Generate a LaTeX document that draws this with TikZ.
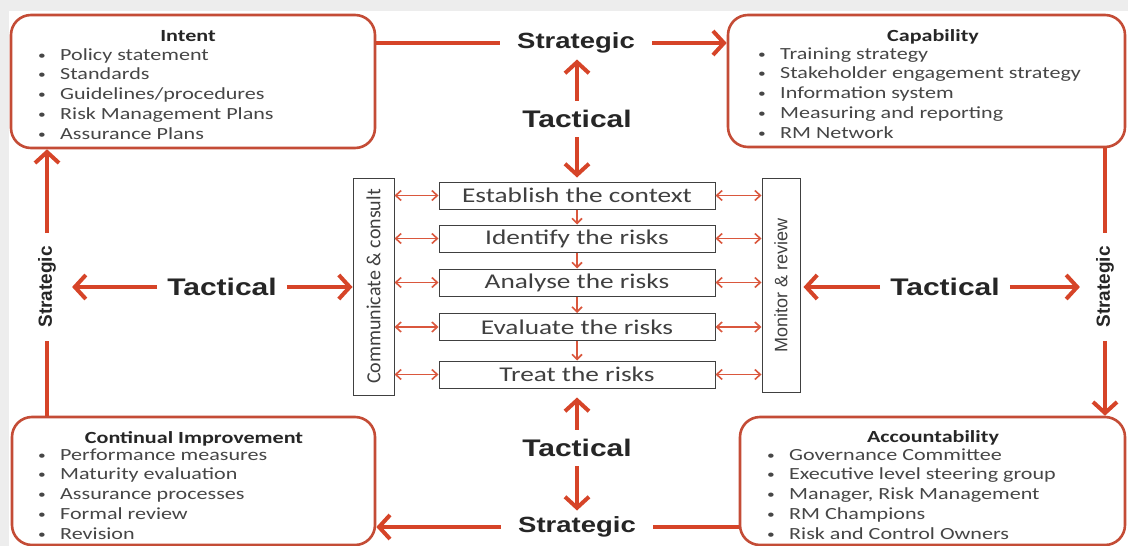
\documentclass[tikz,border=0pt]{standalone}
\usepackage{fontspec}
\usepackage{graphicx}
\usetikzlibrary{arrows.meta}
\newfontfamily\boxfont[FakeStretch=1.3]{Carlito}
\newfontfamily\sidefont{Carlito}
\newfontfamily\levelfont[FakeStretch=1.25]{Liberation Sans}
\newfontfamily\sidelevelfont{Liberation Sans}
\definecolor{cyclered}{RGB}{214,68,40}
\definecolor{boxred}{RGB}{196,76,54}
\definecolor{itemgrey}{RGB}{70,70,70}
\definecolor{stepgrey}{RGB}{64,64,64}
\newcommand{\bul}{\raisebox{1pt}{\scalebox{0.7}{\textbullet}}}
\newcommand{\arealist}[1]{\begin{tabular}[t]{@{}p{22pt}@{}l@{}}#1\end{tabular}}

\tikzset{
  area/.style={draw=boxred, line width=2.6pt, rounded corners=20pt, inner sep=0pt},
  areatitle/.style={anchor=base, inner sep=0pt, font=\boxfont\bfseries\fontsize{17}{19.75}\selectfont, text=black!85},
  arealines/.style={anchor=base west, inner sep=0pt, font=\boxfont\fontsize{17}{19.75}\selectfont, text=itemgrey},
  stepbox/.style={draw=stepgrey, line width=1pt, minimum width=276pt, minimum height=27pt, inner sep=0pt, font=\boxfont\fontsize{21}{24}\selectfont, text=stepgrey},
  sidebox/.style={draw=stepgrey, line width=1pt, rotate=90, inner sep=0pt, text=stepgrey},
  level/.style={font=\levelfont\bfseries\fontsize{24}{28}\selectfont, text=black!85, inner xsep=10pt, inner ysep=9pt},
  strat/.style={font=\levelfont\bfseries\fontsize{22}{26}\selectfont, text=black!85, inner xsep=17pt, inner ysep=6pt},
  sidestrat/.style={font=\sidelevelfont\bfseries\fontsize{19}{22}\selectfont, text=black!85, rotate=90, inner xsep=13pt, inner ysep=16pt},
  cycleline/.style={draw=cyclered, line width=4pt},
  cyclearrow/.style={cycleline, -{Straight Barb[length=11pt,width=24pt]}},
  linkarrow/.style={draw=cyclered!90, line width=1.6pt, {Straight Barb[length=5.5pt,width=10pt]}-{Straight Barb[length=5.5pt,width=10pt]}},
  stepflow/.style={draw=cyclered!90, line width=1.6pt, -{Straight Barb[length=5pt,width=10pt]}}
}

\begin{document}
\begin{tikzpicture}[x=1pt, y=-1pt]
  \useasboundingbox (0,0) rectangle (1128,546);
  \fill[black!7] (0,0) rectangle (1128,546);
  \fill[white] (9,11) rectangle (1128,546);

  % the four areas
  \node[area, minimum width=364pt, minimum height=133pt] (intent) at (193,81.5) {};
  \node[area, minimum width=397pt, minimum height=132pt] (capab) at (926.5,81) {};
  \node[area, minimum width=363pt, minimum height=128pt] (contin) at (193.5,481) {};
  \node[area, minimum width=385pt, minimum height=128pt] (account) at (932.5,481) {};

  \node[areatitle] (intenttitle) at (188,41) {Intent};
  \node[arealines] (intentlist) at (38,60) {\arealist{\bul & Policy statement\\ \bul & Standards\\ \bul & Guidelines/procedures\\ \bul & Risk Management Plans\\ \bul & Assurance Plans}};
  \node[areatitle] (capabtitle) at (933,41) {Capability};
  \node[arealines] (capablist) at (758,59) {\arealist{\bul & Training strategy\\ \bul & Stakeholder engagement strategy\\ \bul & Information system\\ \bul & Measuring and reporting\\ \bul & RM Network}};
  \node[areatitle] (contintitle) at (194,443) {Continual Improvement};
  \node[arealines] (continlist) at (38,460) {\arealist{\bul & Performance measures\\ \bul & Maturity evaluation\\ \bul & Assurance processes\\ \bul & Formal review\\ \bul & Revision}};
  \node[areatitle] (accounttitle) at (933,442) {Accountability};
  \node[arealines] (accountlist) at (767,460) {\arealist{\bul & Governance Committee\\ \bul & Executive level steering group\\ \bul & Manager, Risk Management\\ \bul & RM Champions\\ \bul & Risk and Control Owners}};

  % process steps
  \node[stepbox] (est) at (577,195.5) {Establish the context};
  \node[stepbox] (ident) at (577,238.5) {Identify the risks};
  \node[stepbox] (anal) at (577,282.5) {Analyse the risks};
  \node[stepbox] (evalu) at (577,327) {Evaluate the risks};
  \node[stepbox] (treat) at (577,374.5) {Treat the risks};
  \node[sidebox, minimum width=217pt, minimum height=41pt, font=\sidefont\fontsize{20}{24}\selectfont] (comm) at (373.5,286.5) {Communicate \& consult};
  \node[sidebox, minimum width=214pt, minimum height=38pt, font=\sidelevelfont\fontsize{18}{22}\selectfont] (mon) at (781,285) {Monitor \& review};

  % levels
  \node[strat] (stratT) at (576,43) {Strategic};
  \node[strat] (stratB) at (577,527) {Strategic};
  \node[sidestrat] (stratL) at (47,287) {Strategic};
  \node[sidestrat] (stratR) at (1105,287) {Strategic};
  \node[level] (tactT) at (577,119) {Tactical};
  \node[level] (tactB) at (577,448) {Tactical};
  \node[level] (tactL) at (222,287) {Tactical};
  \node[level] (tactR) at (945,287) {Tactical};

  % strategic cycle
  \draw[cycleline] (intent.east |- stratT) -- (stratT.west);
  \draw[cyclearrow] (stratT.east) -- (capab.west |- stratT);
  \draw[cycleline] (capab.south -| stratR) -- (stratR.east);
  \draw[cyclearrow] (stratR.west) -- (stratR |- account.north);
  \draw[cycleline] (account.west |- stratB) -- (stratB.east);
  \draw[cyclearrow] (stratB.west) -- (contin.east |- stratB);
  \draw[cycleline] (contin.north -| stratL) -- (stratL.west);
  \draw[cyclearrow] (stratL.east) -- (stratL |- intent.south);

  % tactical arrows
  \draw[cyclearrow] (tactT.north) -- (tactT.north |- stratT.south);
  \draw[cyclearrow, shorten >=4pt] (tactT.south) -- (est.north);
  \draw[cyclearrow, shorten >=9pt] (tactB.north) -- (treat.south);
  \draw[cyclearrow] (tactB.south) -- (tactB.south |- stratB.north);
  \draw[cyclearrow] (tactL.west) -- (stratL.south |- tactL);
  \draw[cyclearrow] (tactL.east) -- (comm.north |- tactL);
  \draw[cyclearrow, shorten >=3pt] (tactR.west) -- (mon.south |- tactR);
  \draw[cyclearrow] (tactR.east) -- (stratR.north |- tactR);

  % links to the side boxes
  \draw[linkarrow] (comm.south |- est) -- (est.west);
  \draw[linkarrow] (comm.south |- ident) -- (ident.west);
  \draw[linkarrow] (comm.south |- anal) -- (anal.west);
  \draw[linkarrow] (comm.south |- evalu) -- (evalu.west);
  \draw[linkarrow] (comm.south |- treat) -- (treat.west);
  \draw[linkarrow] (est.east) -- (mon.north |- est);
  \draw[linkarrow] (ident.east) -- (mon.north |- ident);
  \draw[linkarrow] (anal.east) -- (mon.north |- anal);
  \draw[linkarrow] (evalu.east) -- (mon.north |- evalu);
  \draw[linkarrow] (treat.east) -- (mon.north |- treat);

  % step flow
  \draw[stepflow] (est) -- (ident);
  \draw[stepflow] (ident) -- (anal);
  \draw[stepflow] (anal) -- (evalu);
  \draw[stepflow] (evalu) -- (treat);
\end{tikzpicture}
\end{document}
